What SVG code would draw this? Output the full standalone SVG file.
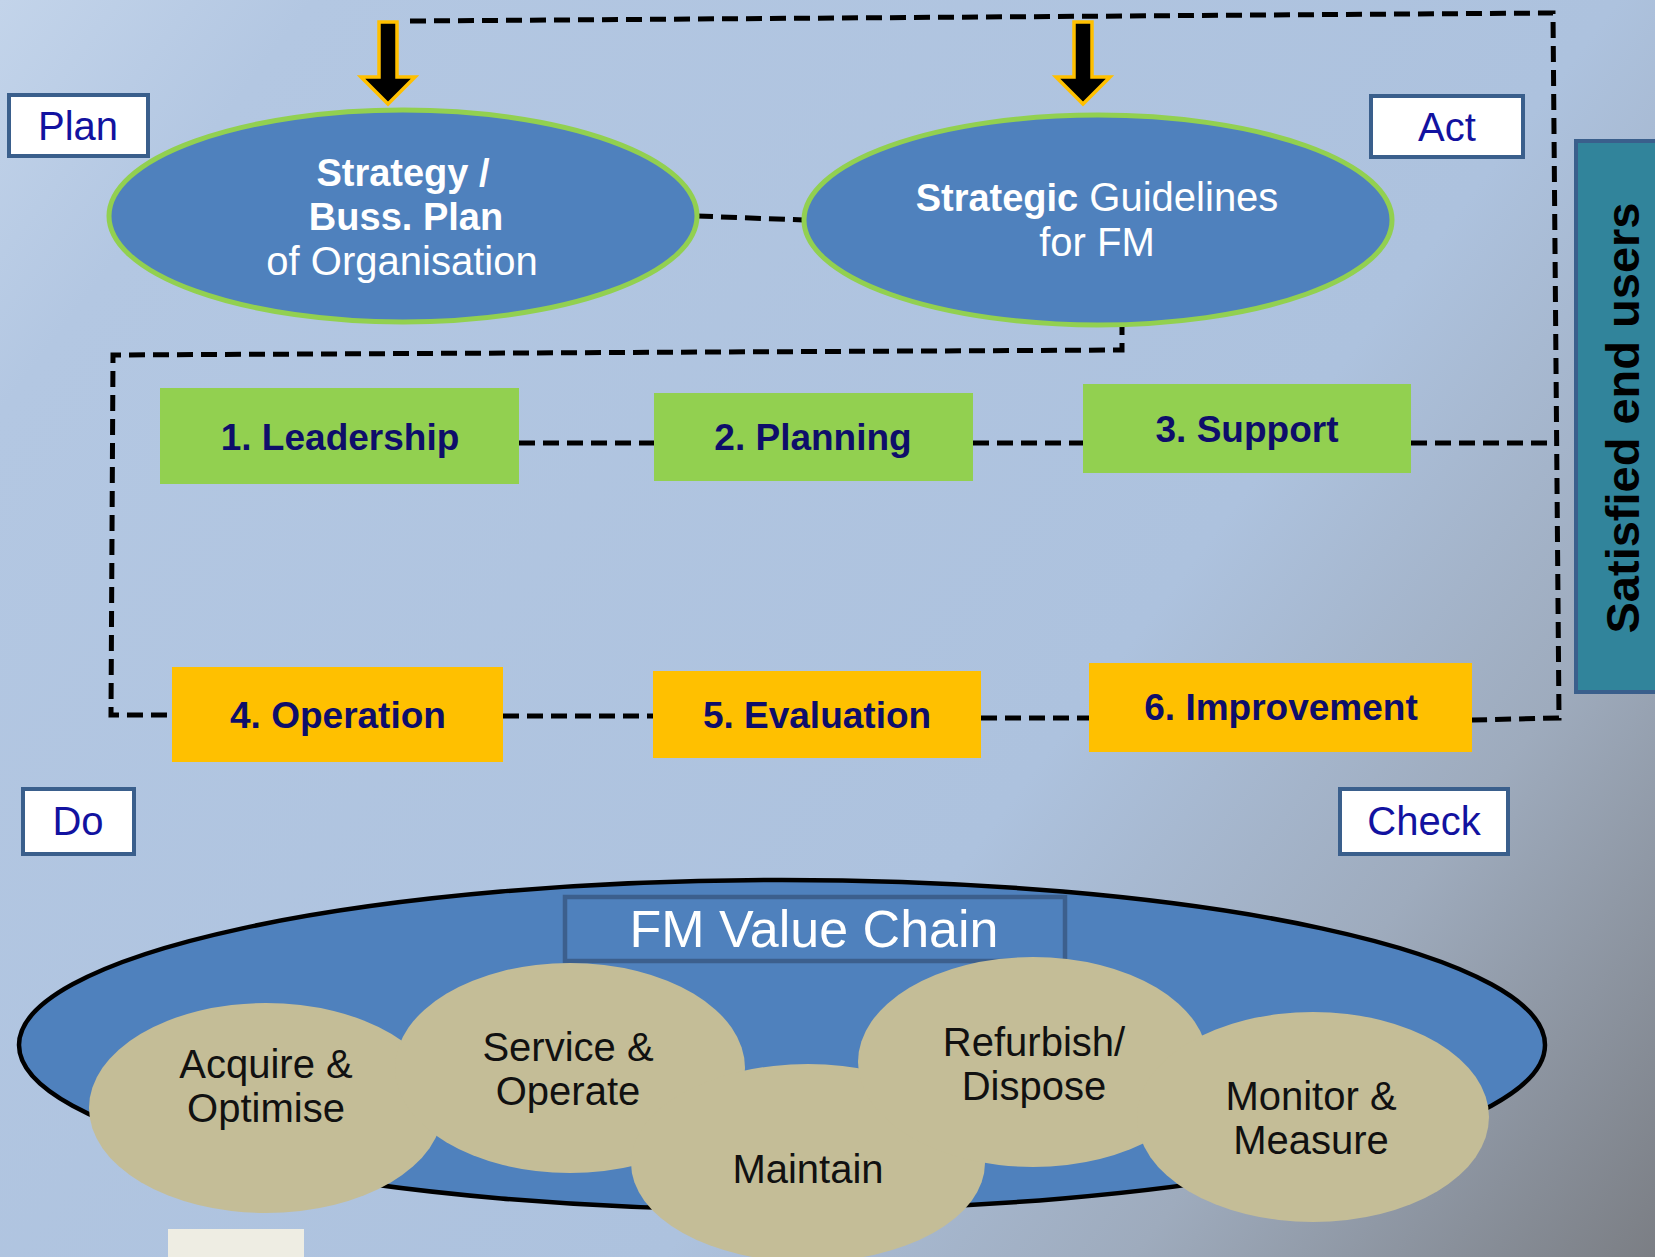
<svg xmlns="http://www.w3.org/2000/svg" width="1655" height="1257" viewBox="0 0 1655 1257">
<defs>
<linearGradient id="bg" gradientUnits="userSpaceOnUse" x1="0" y1="0" x2="1655" y2="1257">
<stop offset="0" stop-color="#c3d4ea"/>
<stop offset="0.12" stop-color="#b3c7e2"/>
<stop offset="0.62" stop-color="#adc2de"/>
<stop offset="0.8" stop-color="#9eabbd"/>
<stop offset="1" stop-color="#7b7e84"/>
</linearGradient>
<style>
.lbl{fill:#fff;stroke:#3a5f8c;stroke-width:4}
.lbltxt{font-family:"Liberation Sans",Arial,sans-serif;font-size:40px;fill:#1212a0;text-anchor:middle}
.ell{fill:#4f81bd;stroke:#92d050;stroke-width:5}
.elltxt{font-family:"Liberation Sans",Arial,sans-serif;font-size:40px;fill:#fff;text-anchor:middle}
.b{font-weight:bold;font-size:38px}
.green{fill:#92d050}
.orange{fill:#ffc000}
.boxtxt{font-family:"Liberation Sans",Arial,sans-serif;font-size:37px;font-weight:bold;fill:#0e0e6a;text-anchor:middle}
.tan{fill:#c4bd97}
.tantxt{font-family:"Liberation Sans",Arial,sans-serif;font-size:40px;fill:#111;text-anchor:middle}
.dash{fill:none;stroke:#000;stroke-width:5;stroke-dasharray:16 8}
.arrow{fill:#000;stroke:#ffc000;stroke-width:3.5;stroke-linejoin:miter}
</style>
</defs>
<rect x="0" y="0" width="1655" height="1257" fill="url(#bg)"/>

<g id="connectors">
<path class="dash" d="M410,21 L1553,13 L1559,718 L1472,720"/>
<path class="dash" d="M1411,443 L1555,443"/>
<path class="dash" d="M697,216 L804,220"/>
<path class="dash" d="M1122,319 L1122,350 L113,355 L111,715 L172,715"/>
<path class="dash" d="M519,443 L654,443"/>
<path class="dash" d="M973,443 L1083,443"/>
<path class="dash" d="M503,716 L653,716"/>
<path class="dash" d="M981,718 L1089,718"/>
<polygon class="arrow" points="379,22 397,22 397,77 415,77 388,104 361,77 379,77"/>
<polygon class="arrow" points="1074,22 1092,22 1092,77 1110,77 1083,104 1056,77 1074,77"/>
</g>

<g id="plan"><rect class="lbl" x="9" y="95" width="139" height="61"/><text class="lbltxt" x="78" y="140">Plan</text></g>
<g id="act"><rect class="lbl" x="1371" y="96" width="152" height="61"/><text class="lbltxt" x="1447" y="141">Act</text></g>
<g id="do"><rect class="lbl" x="23" y="789" width="111" height="65"/><text class="lbltxt" x="78" y="835">Do</text></g>
<g id="check"><rect class="lbl" x="1340" y="789" width="168" height="65"/><text class="lbltxt" x="1424" y="835">Check</text></g>

<g id="strategy">
<ellipse class="ell" cx="403" cy="216" rx="294" ry="106"/>
<text class="elltxt b" x="403" y="186">Strategy /</text>
<text class="elltxt b" x="406" y="230">Buss. Plan</text>
<text class="elltxt" x="402" y="275">of Organisation</text>
</g>
<g id="guidelines">
<ellipse class="ell" cx="1098" cy="220" rx="294" ry="105"/>
<text class="elltxt" x="1097" y="211"><tspan class="b">Strategic</tspan> Guidelines</text>
<text class="elltxt" x="1097" y="256">for FM</text>
</g>

<g id="leadership"><rect class="green" x="160" y="388" width="359" height="96"/><text class="boxtxt" x="340" y="450">1. Leadership</text></g>
<g id="planning"><rect class="green" x="654" y="393" width="319" height="88"/><text class="boxtxt" x="813" y="450">2. Planning</text></g>
<g id="support"><rect class="green" x="1083" y="384" width="328" height="89"/><text class="boxtxt" x="1247" y="442">3. Support</text></g>

<g id="operation"><rect class="orange" x="172" y="667" width="331" height="95"/><text class="boxtxt" x="338" y="728">4. Operation</text></g>
<g id="evaluation"><rect class="orange" x="653" y="671" width="328" height="87"/><text class="boxtxt" x="817" y="728">5. Evaluation</text></g>
<g id="improvement"><rect class="orange" x="1089" y="663" width="383" height="89"/><text class="boxtxt" x="1281" y="720">6. Improvement</text></g>

<g id="satisfied">
<rect x="1576" y="141" width="90" height="551" fill="#31849b" stroke="#3a5f8c" stroke-width="4"/>
<text transform="translate(1639,418) rotate(-90)" x="0" y="0" font-family="'Liberation Sans',Arial,sans-serif" font-size="47" font-weight="bold" fill="#000" text-anchor="middle">Satisfied end users</text>
</g>

<g id="valuechain">
<ellipse cx="782" cy="1045" rx="763" ry="165" fill="#4f81bd" stroke="#000" stroke-width="4.5"/>
<rect x="565" y="897" width="500" height="64" fill="#4f81bd" stroke="#3c5f8d" stroke-width="4.5"/>
<text x="814" y="947" font-family="'Liberation Sans',Arial,sans-serif" font-size="52" fill="#fff" text-anchor="middle">FM Value Chain</text>
</g>

<g id="acquire"><ellipse class="tan" cx="266" cy="1108" rx="177" ry="105"/><text class="tantxt" x="266" y="1078">Acquire &amp;</text><text class="tantxt" x="266" y="1122">Optimise</text></g>
<g id="service"><ellipse class="tan" cx="570" cy="1068" rx="175" ry="105"/><text class="tantxt" x="568" y="1061">Service &amp;</text><text class="tantxt" x="568" y="1105">Operate</text></g>
<g id="maintain"><ellipse class="tan" cx="808" cy="1163" rx="177" ry="99"/><text class="tantxt" x="808" y="1183">Maintain</text></g>
<g id="refurbish"><ellipse class="tan" cx="1033" cy="1062" rx="175" ry="105"/><text class="tantxt" x="1034" y="1056">Refurbish/</text><text class="tantxt" x="1034" y="1100">Dispose</text></g>
<g id="monitor"><ellipse class="tan" cx="1313" cy="1117" rx="176" ry="105"/><text class="tantxt" x="1311" y="1110">Monitor &amp;</text><text class="tantxt" x="1311" y="1154">Measure</text></g>

<rect x="168" y="1229" width="136" height="28" fill="#eeede3"/>
</svg>
